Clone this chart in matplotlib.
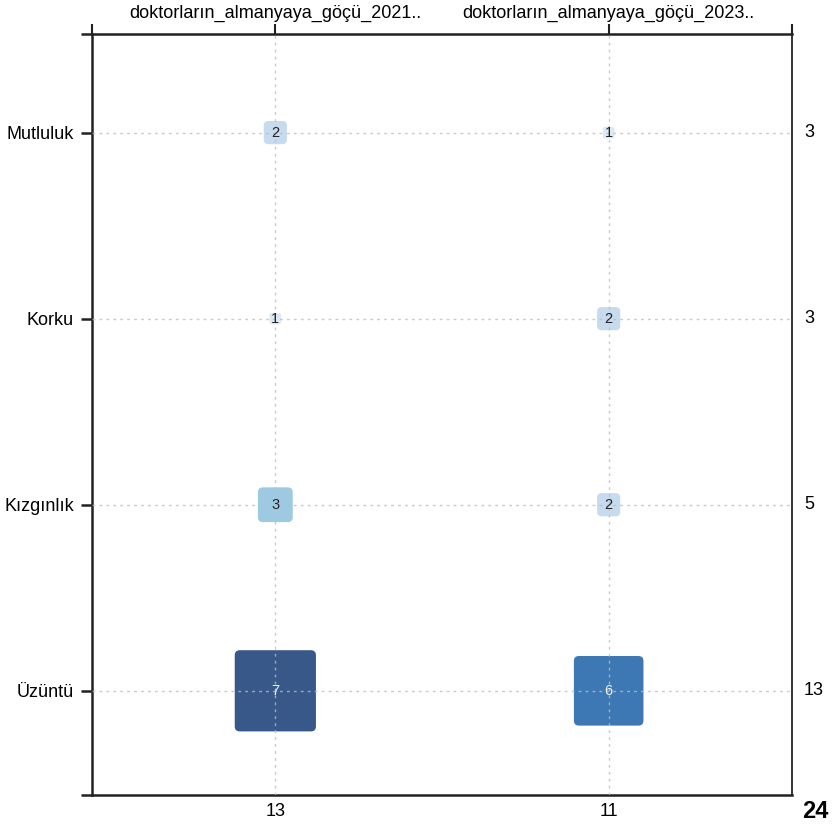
import matplotlib.pyplot as plt
from matplotlib.patches import FancyBboxPatch
from matplotlib.transforms import ScaledTranslation

plt.rcParams['font.family'] = ['Liberation Sans', 'DejaVu Sans']

# Data
columns = ['doktorların_almanyaya_göçü_2021..', 'doktorların_almanyaya_göçü_2023..']
rows = ['Mutluluk', 'Korku', 'Kızgınlık', 'Üzüntü']
counts_2021 = [2, 1, 3, 7]
counts_2023 = [1, 2, 2, 6]

row_totals = [a + b for a, b in zip(counts_2021, counts_2023)]
col_totals = [sum(counts_2021), sum(counts_2023)]
grand_total = sum(col_totals)

# colour per cell value
palette = {1: '#dde9f5', 2: '#c6dbee', 3: '#9dcae2', 4: '#6baed6',
           5: '#4a90c4', 6: '#3d78b4', 7: '#38588a'}

fig = plt.figure(figsize=(8.32, 8.25), dpi=100)
ax = fig.add_axes([92 / 832, 1 - 795 / 825, 700 / 832, 761 / 825])

ncol, nrow = len(columns), len(rows)
ax.set_xlim(-0.55, ncol - 1 + 0.55)
ax.set_ylim(nrow - 1 + 0.56, -0.53)

# grid
for i in range(ncol):
    ax.axvline(i, color='#bdbdbd', ls=(0, (2, 3)), lw=1, zorder=3, alpha=0.8)
for j in range(nrow):
    ax.axhline(j, color='#bdbdbd', ls=(0, (2, 3)), lw=1, zorder=3, alpha=0.8)

px_per_unit = 11.6
for i, series in enumerate([counts_2021, counts_2023]):
    for j, v in enumerate(series):
        side = px_per_unit * v / 100.0
        tr = fig.dpi_scale_trans + ScaledTranslation(i, j, ax.transData)
        box = FancyBboxPatch((-side / 2, -side / 2), side, side,
                             boxstyle='round,pad=0,rounding_size=%.3f' % min(0.05, side * 0.2),
                             transform=tr, facecolor=palette[v], edgecolor='none', zorder=2)
        ax.add_patch(box)
        tc = '#f0f0f0' if v >= 5 else '#222222'
        ax.text(i, j, str(v), ha='center', va='center', fontsize=10.5, color=tc, zorder=4)

# axes styling
for s in ['left', 'top', 'bottom']:
    ax.spines[s].set_linewidth(1.8)
    ax.spines[s].set_color('#222222')
ax.spines['right'].set_linewidth(1.4)
ax.spines['right'].set_color('#333333')

lo, hi = ax.get_ylim()
ax.set_yticks([hi] + list(range(nrow)) + [lo])
ax.set_yticklabels([''] + rows + [''], fontsize=13)
ax.tick_params(axis='y', direction='out', length=8, width=1.8, color='#222222', pad=5)

xl, xh = ax.get_xlim()
ax.xaxis.tick_top()
ax.set_xticks([xl] + list(range(ncol)) + [xh])
ax.set_xticklabels([''] + columns + [''], fontsize=13)
ax.tick_params(axis='x', direction='out', length=7, width=1.5, color='#222222', pad=2)

# margin totals
for j, t in enumerate(row_totals):
    ax.text(1.0 + 12 / 700, j, str(t), transform=ax.get_yaxis_transform(),
            ha='left', va='center', fontsize=13)
for i, t in enumerate(col_totals):
    ax.text(i, -16 / 761, str(t), transform=ax.get_xaxis_transform(),
            ha='center', va='center', fontsize=13)
fig.text(815 / 832, 1 - 812 / 825, str(grand_total), ha='center', va='center',
         fontsize=17, fontweight='bold')

fig.savefig('out.png', dpi=100)
